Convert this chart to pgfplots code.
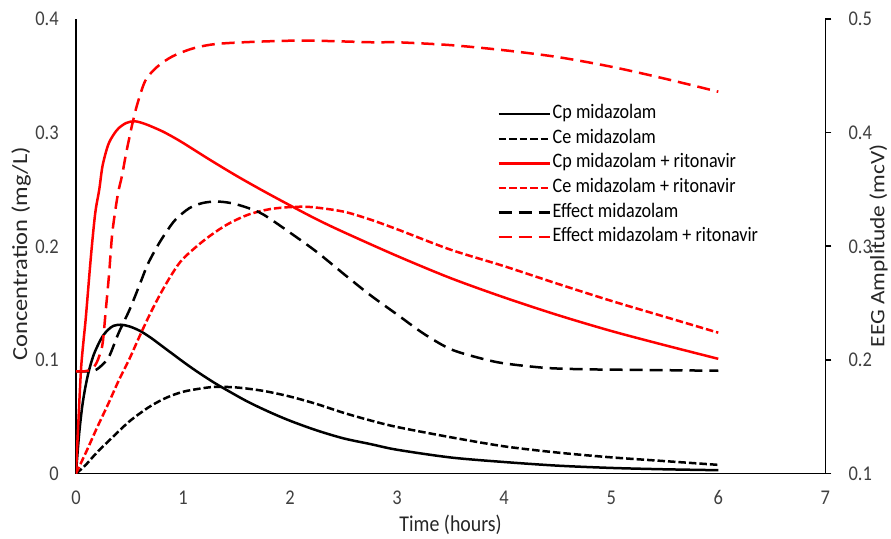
\documentclass[border=0pt]{standalone}
\usepackage{fontspec}
% the reference is slightly taller than wide, so the text is narrowed a little
\setmainfont{Carlito}[FakeStretch=0.88]
\newfontfamily\vlabelfont{Carlito}[FakeStretch=1.14]
\usepackage{pgfplots}
\pgfplotsset{compat=1.18}
\usetikzlibrary{calc}

\definecolor{xlred}{RGB}{255,0,0}
\definecolor{ticktext}{RGB}{64,64,64}

\pgfplotsset{
  chartbase/.style={
    width=750pt, height=455pt, scale only axis,
    xmin=0, xmax=7,
    tick label style={font=\fontsize{21}{24}\selectfont, text=ticktext, inner sep=0pt},
    /pgf/number format/assume math mode=true,
    /pgf/number format/fixed,
    axis line style={line width=1.6pt, black},
  },
  shortdash/.style={dash pattern=on 7.5pt off 3pt},
  longdash/.style={dash pattern=on 13pt off 7pt},
}

\begin{document}
\begin{tikzpicture}
% left axis: concentrations
\begin{axis}[chartbase, name=ax,
    axis x line*=bottom, axis y line*=left,
    ymin=0, ymax=0.4,
    ytick={0,0.1,0.2,0.3,0.4},
    xtick={0,1,...,7},
    major tick length=0pt,
    xlabel={Time (hours)},
    ylabel={Concentration (mg/L)},
    xlabel style={at={(axis description cs:0.5,-0.1275)}, anchor=base,
      font=\fontsize{22.6}{26}\selectfont, text=black!85},
    ylabel style={at={(axis description cs:-0.0733,0.4835)}, anchor=center,
      font=\vlabelfont\fontsize{21.5}{25}\selectfont, text=black!85},
    yticklabel style={anchor=east, xshift=-17pt},
    xticklabel style={anchor=base, yshift=-31pt},
]
% Cp midazolam
\addplot[black, line width=2.5pt, smooth] coordinates {
  (0,0) (0.03,0.035) (0.06,0.060) (0.09,0.077) (0.12,0.090) (0.16,0.103)
  (0.2,0.112) (0.25,0.121) (0.3,0.1265) (0.35,0.130) (0.42,0.131) (0.5,0.1295)
  (0.6,0.1255) (0.7,0.1195) (0.8,0.1125) (0.9,0.1055) (1.0,0.0985)
  (1.1,0.0918) (1.2,0.0855) (1.3,0.0795) (1.4,0.0740) (1.6,0.0635)
  (1.8,0.0545) (2.0,0.0465) (2.25,0.038) (2.5,0.031)
  (2.75,0.026) (3.0,0.021) (3.5,0.0142) (4.0,0.0102) (4.5,0.0070)
  (5.0,0.0050) (5.5,0.0038) (6.0,0.0030)
};
% Ce midazolam
\addplot[black, line width=2.5pt, shortdash, smooth] coordinates {
  (0,0) (0.08,0.0065) (0.2,0.019) (0.32,0.030) (0.5,0.046) (0.69,0.059)
  (0.85,0.067) (1.0,0.072) (1.16,0.0748) (1.3,0.0763) (1.5,0.0758)
  (1.75,0.0728) (2.0,0.0678) (2.25,0.0612) (2.5,0.0535) (2.75,0.0468)
  (3.0,0.041) (3.5,0.032) (4.0,0.024) (4.5,0.0185) (5.0,0.0143)
  (5.5,0.011) (6.0,0.0077)
};
% Cp midazolam + ritonavir
\addplot[xlred, line width=2.5pt, smooth] coordinates {
  (0,0) (0.02,0.040) (0.047,0.091) (0.07,0.116) (0.093,0.138) (0.14,0.191)
  (0.18,0.229) (0.218,0.250) (0.249,0.271) (0.3,0.289) (0.35,0.298)
  (0.4,0.304) (0.47,0.3085) (0.55,0.310) (0.65,0.3075) (0.8,0.3015)
  (0.9,0.2965) (1.0,0.291) (1.25,0.2762) (1.5,0.262) (1.75,0.2487)
  (2.0,0.236) (2.25,0.2237) (2.5,0.2125) (3.0,0.1915) (3.5,0.172)
  (4.0,0.155) (4.5,0.1395) (5.0,0.1255) (5.5,0.113) (6.0,0.101)
};
% Ce midazolam + ritonavir
\addplot[xlred, line width=2.5pt, shortdash, smooth] coordinates {
  (0,0) (0.1,0.020) (0.2,0.041) (0.3,0.061) (0.4,0.082) (0.5,0.101)
  (0.6,0.122) (0.7,0.142) (0.8,0.160) (0.9,0.176) (1.0,0.189) (1.2,0.2055)
  (1.4,0.2185) (1.6,0.2275) (1.8,0.2325) (2.0,0.2345) (2.2,0.2345)
  (2.5,0.2305) (2.75,0.2235) (3.0,0.215) (3.5,0.197) (4.0,0.1825)
  (4.5,0.167) (5.0,0.152) (5.5,0.138) (6.0,0.124)
};
\end{axis}
% right axis: EEG amplitude
\begin{axis}[chartbase,
    axis x line=none, axis y line*=right,
    ymin=0.1, ymax=0.5,
    ytick={0.1,0.2,0.3,0.4,0.5},
    tick align=outside, major tick length=6pt,
    ytick style={line width=1.6pt, black},
    ylabel={EEG Amplitude (mcV)},
    ylabel style={at={(axis description cs:1.071,0.501)}, anchor=center,
      font=\vlabelfont\fontsize{20.5}{24}\selectfont, text=black!85},
    yticklabel style={anchor=west, xshift=17pt},
    legend style={at={(axis description cs:0.562,0.814)}, anchor=north west,
      draw=none, fill=none, inner sep=0pt, row sep=3.6pt,
      font=\fontsize{20.6}{24}\selectfont,
      nodes={text height=14pt, text depth=5pt, inner sep=1pt}},
    legend cell align=left,
    legend image code/.code={\draw[#1] (0pt,0pt) -- (52pt,0pt);},
]
\addlegendimage{black, line width=2.5pt}
\addlegendentry{Cp midazolam}
\addlegendimage{black, line width=2.5pt, shortdash}
\addlegendentry{Ce midazolam}
\addlegendimage{xlred, line width=2.5pt}
\addlegendentry{Cp midazolam + ritonavir}
\addlegendimage{xlred, line width=2.5pt, shortdash}
\addlegendentry{Ce midazolam + ritonavir}
% Effect midazolam
\addplot[black, line width=2.5pt, longdash, smooth] coordinates {
  (0,0.19) (0.08,0.19) (0.14,0.1898) (0.19,0.1914) (0.25,0.196) (0.31,0.203)
  (0.4,0.224) (0.5,0.244) (0.59,0.265) (0.67,0.284) (0.76,0.300) (0.84,0.312)
  (0.93,0.3235) (1.06,0.3336) (1.18,0.338) (1.31,0.3394) (1.45,0.338)
  (1.6,0.334) (1.75,0.328) (2.0,0.312) (2.25,0.295) (2.53,0.2735)
  (2.75,0.257) (3.0,0.240) (3.25,0.223) (3.5,0.2095) (3.77,0.2017)
  (4.0,0.197) (4.39,0.193) (4.75,0.1918) (5.08,0.1914) (5.5,0.191) (6.0,0.1905)
};
\addlegendentry{Effect midazolam}
% Effect midazolam + ritonavir
\addplot[xlred, line width=2.5pt, longdash, smooth] coordinates {
  (0,0.19) (0.08,0.19) (0.15,0.192) (0.19,0.197) (0.22,0.204) (0.25,0.215)
  (0.28,0.245) (0.31,0.276) (0.34,0.312) (0.39,0.345) (0.43,0.362)
  (0.467,0.381) (0.5,0.396) (0.53,0.409) (0.576,0.426) (0.65,0.446)
  (0.76,0.458) (0.9,0.467) (1.09,0.474) (1.31,0.478) (1.69,0.480)
  (2.15,0.481) (2.77,0.4795) (3.0,0.4795) (3.5,0.477) (4.0,0.4725)
  (4.5,0.4665) (5.0,0.458) (5.5,0.4475) (6.0,0.436)
};
\addlegendentry{Effect midazolam + ritonavir}
\end{axis}
\path ($(ax.south west)+(-76pt,-61pt)$) rectangle ($(ax.north east)+(65pt,19pt)$);
\end{tikzpicture}
\end{document}
